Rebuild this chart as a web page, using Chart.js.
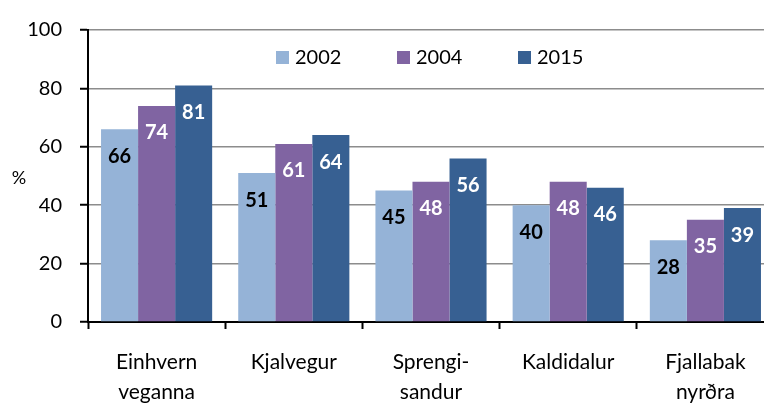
<!DOCTYPE html>
<html>
<head>
<meta charset="utf-8">
<script src="https://cdn.jsdelivr.net/npm/chart.js@4"></script>
<style>
  html, body { margin: 0; padding: 0; background: #fff; overflow: hidden; }
  #wrap { width: 790px; height: 403px; }
</style>
</head>
<body>
<div id="wrap"><canvas id="chart"></canvas></div>
<script>
// --- data ---
const CATEGORIES = [
    ["Einhvern", "veganna"],
    ["Kjalvegur"],
    ["Sprengi-", "sandur"],
    ["Kaldidalur"],
    ["Fjallabak", "nyrðra"]
];
const YEARS = ["2002", "2004", "2015"];
const VALUES_2002 = [66, 51, 45, 40, 28];
const VALUES_2004 = [74, 61, 48, 48, 35];
const VALUES_2015 = [81, 64, 56, 46, 39];
const Y_TICKS = [0, 20, 40, 60, 80, 100];

const COLORS = ['#95b3d7', '#8064a2', '#376092'];
const LABEL_COLORS = ['#000000', '#ffffff', '#ffffff'];
const FONT = 'Lato, "Open Sans", sans-serif';

// value labels inside the bars, a fixed distance below the top
const barLabels = {
    id: 'barLabels',
    afterDatasetsDraw(chart) {
        const ctx = chart.ctx;
        ctx.save();
        ctx.font = 'bold 20px ' + FONT;
        ctx.textAlign = 'center';
        ctx.textBaseline = 'middle';
        chart.data.datasets.forEach((ds, i) => {
            const meta = chart.getDatasetMeta(i);
            ctx.fillStyle = LABEL_COLORS[i];
            meta.data.forEach((bar, j) => {
                ctx.fillText(String(ds.data[j]), bar.x, bar.y + 27);
            });
        });
        ctx.restore();
    }
};

// legend drawn inside the plot and the "%" axis caption
const overlay = {
    id: 'overlay',
    afterDraw(chart) {
        const ctx = chart.ctx;
        ctx.save();
        ctx.textBaseline = 'middle';
        ctx.font = '20px ' + FONT;
        const startX = [276, 397, 518];
        chart.data.datasets.forEach((ds, i) => {
            ctx.fillStyle = ds.backgroundColor;
            ctx.fillRect(startX[i], 51, 13, 13);
            ctx.fillStyle = '#000';
            ctx.textAlign = 'left';
            ctx.fillText(ds.label, startX[i] + 19, 58);
        });
        ctx.font = '18px ' + FONT;
        ctx.textAlign = 'center';
        ctx.fillText('%', 19, 178);
        ctx.restore();
    }
};

new Chart(document.getElementById('chart'), {
    type: 'bar',
    data: {
        labels: CATEGORIES,
        datasets: [
            { label: YEARS[0], data: VALUES_2002, backgroundColor: COLORS[0] },
            { label: YEARS[1], data: VALUES_2004, backgroundColor: COLORS[1] },
            { label: YEARS[2], data: VALUES_2015, backgroundColor: COLORS[2] }
        ]
    },
    options: {
        responsive: true,
        maintainAspectRatio: false,
        animation: false,
        layout: { padding: { top: 20, right: 16, left: 0, bottom: 0 } },
        datasets: {
            bar: { categoryPercentage: 0.81, barPercentage: 1.0 }
        },
        plugins: {
            legend: { display: false },
            tooltip: { enabled: false }
        },
        scales: {
            x: {
                grid: {
                    drawOnChartArea: false,
                    drawTicks: true,
                    tickLength: 7,
                    tickColor: '#000',
                    tickWidth: 2
                },
                border: { color: '#000', width: 2 },
                ticks: {
                    color: '#000',
                    padding: 19,
                    maxRotation: 0,
                    font: { family: FONT, size: 21, lineHeight: 1.4 }
                },
                afterFit(scale) { scale.height = 81; }
            },
            y: {
                min: 0,
                max: 100,
                afterBuildTicks(scale) {
                    scale.ticks = Y_TICKS.map(v => ({ value: v }));
                },
                grid: {
                    color: '#8c8c8c',
                    lineWidth: 1.5,
                    tickLength: 8,
                    tickColor: '#000',
                    tickWidth: 2
                },
                border: { color: '#000', width: 2 },
                ticks: {
                    color: '#000',
                    padding: 18,
                    font: { family: FONT, size: 20 }
                },
                afterFit(scale) { scale.width = 88; }
            }
        }
    },
    plugins: [barLabels, overlay]
});
</script>
</body>
</html>
